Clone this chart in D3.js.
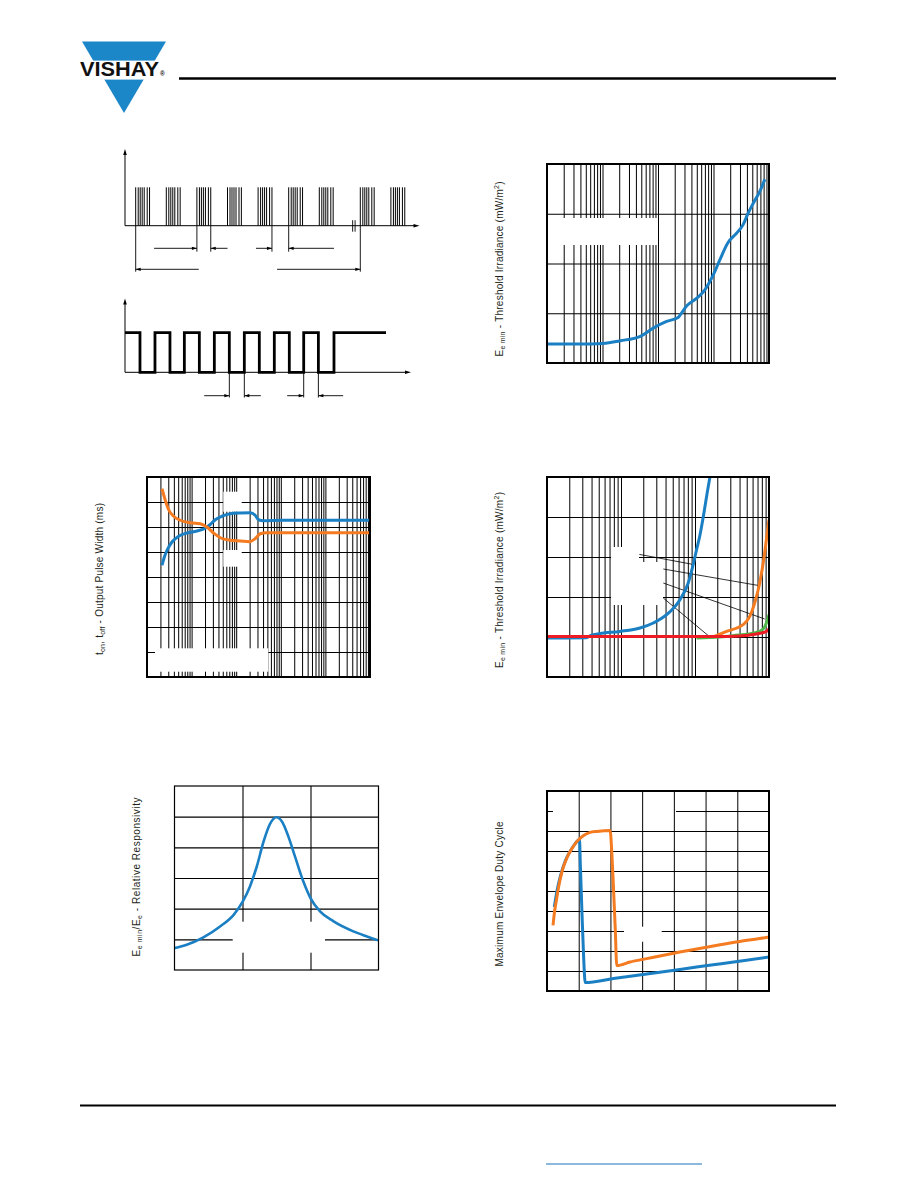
<!DOCTYPE html>
<html><head><meta charset="utf-8">
<script src="https://cdn.jsdelivr.net/npm/d3@7"></script>
<style>html,body{margin:0;padding:0;background:#fff;}svg{display:block;}</style>
</head><body>
<script>
// ================= DATA =================
// Timing diagram (time in burst periods)
const burstStarts = [0, 1, 2, 3, 4, 5, 6, 7.34, 8.34];
const pulseOffsets = [0, 0.082, 0.147, 0.212, 0.278, 0.376, 0.453];
const outputLowIntervals = [[0.14,0.63],[1.12,1.59],[2.08,2.57],[3.06,3.55],[4.04,4.53],[5.02,5.49],[5.97,6.48]];
const outputEndTime = 8.18;
const signalBreakTimes = [7.09, 7.17];
const signalDimRow1Ext = [2, 2.453, 4.453, 5];
const signalDimRow1Arrows = [[0.6, 2], [3.0, 2.453], [3.93, 4.453], [6.48, 5]];
const signalDimRow2Ext = [0, 7.34];
const signalDimRow2Arrows = [[2.06, 0], [4.62, 7.34]];
const outputDimExt = [3.06, 3.55, 5.49, 5.97];
const outputDimArrows = [[2.24, 3.06], [4.09, 3.55], [4.95, 5.49], [6.78, 5.97]];

// Chart A: threshold irradiance vs ambient DC irradiance
const ambientIrr = [0.01, 0.04, 0.1, 0.21, 0.48, 0.82, 1.43, 2.3, 2.65, 3.3, 5.0, 7.0, 8.6, 9.9, 13, 18.3, 26, 34, 42, 52, 68, 84];
const ambientThr = [0.19, 0.19, 0.197, 0.224, 0.268, 0.351, 0.418, 0.458, 0.502, 0.575, 0.652, 0.736, 0.819, 0.886, 1.037, 1.211, 1.304, 1.388, 1.505, 1.605, 1.722, 1.846];

// Chart B: output pulse width
const tonIrr = [0.217, 0.245, 0.281, 0.363, 0.512, 0.787, 1.32, 2.02, 2.62, 3.39, 4.78, 7.34, 12.3, 20.6, 26.6, 31.6, 40.9, 100, 1000, 10000];
const tonWidth = [0.447, 0.48, 0.507, 0.54, 0.563, 0.576, 0.584, 0.595, 0.61, 0.629, 0.643, 0.653, 0.656, 0.657, 0.647, 0.629, 0.625, 0.627, 0.627, 0.627];
const toffIrr = [0.217, 0.257, 0.306, 0.396, 0.557, 0.933, 1.56, 2.2, 3.11, 4.39, 7.34, 12.3, 19.9, 26.6, 34.4, 48.6, 100, 1000, 10000];
const toffWidth = [0.753, 0.707, 0.669, 0.643, 0.627, 0.617, 0.613, 0.6, 0.576, 0.557, 0.547, 0.544, 0.541, 0.553, 0.573, 0.577, 0.577, 0.577, 0.577];

// Chart C: threshold irradiance vs supply ripple
const rippleBlueX = [1, 3.4, 3.9, 5.2, 9.7, 18.1, 27.3, 41.4, 62.6, 81, 94.6, 105, 116, 132, 146, 159];
const rippleBlueY = [0.39, 0.393, 0.415, 0.435, 0.456, 0.49, 0.54, 0.623, 0.773, 0.94, 1.126, 1.273, 1.41, 1.64, 1.84, 2.0];
const rippleOrangeX = [176, 267, 446, 550, 642, 750, 875, 939, 1000];
const rippleOrangeY = [0.40, 0.456, 0.523, 0.606, 0.743, 0.943, 1.243, 1.42, 1.573];
const rippleGreenX = [105, 216, 327, 677, 832, 922, 1000];
const rippleGreenY = [0.39, 0.40, 0.413, 0.446, 0.48, 0.54, 0.623];
const rippleRedX = [1, 200, 400, 677, 922, 1000];
const rippleRedY = [0.405, 0.405, 0.41, 0.43, 0.456, 0.48];
const rippleLeaders = [[[17.7, 1.226], [93.8, 1.126]], [[37.3, 1.08], [750, 0.913]], [[37.3, 0.94], [875, 0.58]], [[37.3, 0.79], [159, 0.40]]];

// Chart D: relative responsivity vs f/f0
const freqRatio = [0.7, 0.736, 0.785, 0.834, 0.874, 0.901, 0.922, 0.942, 0.962, 0.981, 1.0, 1.016, 1.035, 1.055, 1.079, 1.1, 1.128, 1.168, 1.226, 1.266, 1.3];
const responsivity = [0.143, 0.165, 0.213, 0.284, 0.36, 0.447, 0.545, 0.675, 0.838, 0.953, 0.996, 0.968, 0.87, 0.736, 0.577, 0.469, 0.382, 0.317, 0.252, 0.219, 0.193];

// Chart E: max envelope duty cycle vs burst length
const dutyBlueX = [4.6, 6.3, 8.4, 11.5, 14.7, 17.8, 20.5, 21.0, 22.0, 23.1, 24.1, 41.9, 62.9, 83.8, 104.8, 125.7, 140];
const dutyBlueY = [0.42, 0.5, 0.573, 0.65, 0.7, 0.737, 0.757, 0.637, 0.403, 0.17, 0.042, 0.062, 0.085, 0.108, 0.131, 0.154, 0.17];
const dutyOrangeX = [3.8, 4.6, 5.9, 7.3, 9.4, 12.6, 15.7, 18.9, 23.1, 27.2, 31.4, 39.8, 40.9, 41.9, 43.0, 44.0, 52.4, 62.9, 83.8, 104.8, 121.6, 134.1, 140];
const dutyOrangeY = [0.328, 0.387, 0.453, 0.52, 0.595, 0.667, 0.712, 0.748, 0.778, 0.793, 0.798, 0.803, 0.687, 0.52, 0.32, 0.127, 0.145, 0.162, 0.195, 0.225, 0.248, 0.262, 0.27];

// ================= DRAWING =================
const BLUE = "#1b7fc3", ORANGE = "#f47b20", GREEN = "#4db848", RED = "#ed1c24";
const FONT = "'Liberation Sans', Arial, Helvetica, sans-serif";
const svg = d3.select("body").append("svg").attr("width", 918).attr("height", 1188);
svg.append("rect").attr("width", 918).attr("height", 1188).attr("fill", "#fff");

// ---- header / footer ----
const logo = svg.append("g");
logo.append("path").attr("d", "M82,41.5L166,41.5L124,113Z").attr("fill", "#1b86c8");
logo.append("rect").attr("x", 76).attr("y", 60.6).attr("width", 98).attr("height", 19).attr("fill", "#fff");
logo.append("text").attr("x", 80).attr("y", 76.4)
  .attr("font-family", "'Liberation Sans Narrow','Arial Narrow','Liberation Sans',sans-serif")
  .attr("font-weight", "bold").attr("font-size", 21)
  .attr("textLength", 79).attr("lengthAdjust", "spacingAndGlyphs").attr("fill", "#111").text("VISHAY");
logo.append("text").attr("x", 160).attr("y", 75.5).attr("font-family", FONT).attr("font-weight", "bold")
  .attr("font-size", 6.5).attr("fill", "#111").text("®");
svg.append("line").attr("x1", 179).attr("x2", 836).attr("y1", 78.5).attr("y2", 78.5).attr("stroke", "#000").attr("stroke-width", 2.4);
svg.append("line").attr("x1", 80).attr("x2", 836).attr("y1", 1105.5).attr("y2", 1105.5).attr("stroke", "#000").attr("stroke-width", 2);
svg.append("line").attr("x1", 546).attr("x2", 702).attr("y1", 1164).attr("y2", 1164).attr("stroke", "#1a75bc").attr("stroke-width", 1.2);

// ---- timing diagram ----
const tX = d3.scaleLinear().domain([0, 1]).range([135.7, 166.3]);
const sigY = d3.scaleLinear().domain([0, 1]).range([225.7, 187.3]);
const outY = d3.scaleLinear().domain([0, 1]).range([372.3, 332.7]);
const td = svg.append("g").attr("stroke", "#000").attr("fill", "none");
const axisLeftX = 125;

function upArrow(g, x, yTop) {
  g.append("path").attr("d", `M${x},${yTop}L${x - 1.8},${yTop + 6}L${x + 1.8},${yTop + 6}Z`).attr("fill", "#000").attr("stroke", "none");
}
function rightArrow(g, xTip, y) {
  g.append("path").attr("d", `M${xTip},${y}L${xTip - 6},${y - 1.8}L${xTip - 6},${y + 1.8}Z`).attr("fill", "#000").attr("stroke", "none");
}
function dimArrow(g, tTail, tHead, y) {
  const xt = tX(tTail), xh = tX(tHead);
  g.append("line").attr("x1", xt).attr("x2", xh).attr("y1", y).attr("y2", y).attr("stroke-width", 0.9);
  const d = xh > xt ? -1 : 1;
  g.append("path").attr("d", `M${xh},${y}L${xh + d * 5},${y - 1.6}L${xh + d * 5},${y + 1.6}Z`).attr("fill", "#000").attr("stroke", "none");
}

// signal axes
td.append("line").attr("x1", axisLeftX).attr("x2", axisLeftX).attr("y1", sigY(0)).attr("y2", 152).attr("stroke-width", 1);
upArrow(td, axisLeftX, 149);
td.append("line").attr("x1", axisLeftX).attr("x2", 414).attr("y1", sigY(0)).attr("y2", sigY(0)).attr("stroke-width", 1);
rightArrow(td, 419.5, sigY(0));
signalBreakTimes.forEach(t => td.append("line").attr("x1", tX(t)).attr("x2", tX(t)).attr("y1", sigY(0) - 5.5).attr("y2", sigY(0) + 6).attr("stroke-width", 0.9));
// pulses
burstStarts.forEach(b => pulseOffsets.forEach(o => {
  td.append("line").attr("x1", tX(b + o)).attr("x2", tX(b + o)).attr("y1", sigY(0)).attr("y2", sigY(1)).attr("stroke-width", 1);
}));
// dimensions
signalDimRow1Ext.forEach(t => td.append("line").attr("x1", tX(t)).attr("x2", tX(t)).attr("y1", sigY(0)).attr("y2", 251.7).attr("stroke-width", 0.9));
signalDimRow2Ext.forEach(t => td.append("line").attr("x1", tX(t)).attr("x2", tX(t)).attr("y1", sigY(0)).attr("y2", 271.7).attr("stroke-width", 0.9));
signalDimRow1Arrows.forEach(a => dimArrow(td, a[0], a[1], 248.3));
signalDimRow2Arrows.forEach(a => dimArrow(td, a[0], a[1], 269.3));

// output axes
td.append("line").attr("x1", axisLeftX).attr("x2", axisLeftX).attr("y1", outY(0)).attr("y2", 302).attr("stroke-width", 1);
upArrow(td, axisLeftX, 298.5);
td.append("line").attr("x1", axisLeftX).attr("x2", 406).attr("y1", outY(0)).attr("y2", outY(0)).attr("stroke-width", 1);
rightArrow(td, 411, outY(0));
const wavePts = [[tX.invert(axisLeftX), 1]];
outputLowIntervals.forEach(([a, b]) => { wavePts.push([a, 1], [a, 0], [b, 0], [b, 1]); });
wavePts.push([outputEndTime, 1]);
td.append("path").attr("d", d3.line().x(d => tX(d[0])).y(d => outY(d[1]))(wavePts))
  .attr("stroke-width", 2.8).attr("stroke-linejoin", "miter");
outputDimExt.forEach(t => td.append("line").attr("x1", tX(t)).attr("x2", tX(t)).attr("y1", outY(0)).attr("y2", 397.5).attr("stroke-width", 0.9));
outputDimArrows.forEach(a => dimArrow(td, a[0], a[1], 395.7));

// ---- generic chart ----
function logGrid(domain) {
  const vals = [];
  const e0 = Math.round(Math.log10(domain[0])), e1 = Math.round(Math.log10(domain[1]));
  for (let e = e0; e < e1; e++) for (let k = 1; k <= 9; k++) vals.push(k * Math.pow(10, e));
  return vals.filter(v => v > domain[0] * 1.0001 && v < domain[1] * 0.9999);
}
function linGrid(domain, n) {
  return d3.range(1, n).map(i => domain[0] + i * (domain[1] - domain[0]) / n);
}
let clipId = 0;
function drawChart(cfg) {
  const g = svg.append("g");
  const x = (cfg.xLog ? d3.scaleLog() : d3.scaleLinear()).domain(cfg.xDomain).range([cfg.left, cfg.right]);
  const y = d3.scaleLinear().domain(cfg.yDomain).range([cfg.bottom, cfg.top]);
  const w = cfg.right - cfg.left, h = cfg.bottom - cfg.top;
  const gw = cfg.gridWidth || 1;
  // horizontal grid
  const hg = g.append("g").attr("transform", `translate(${cfg.left},0)`)
    .call(d3.axisLeft(y).tickValues(linGrid(cfg.yDomain, cfg.yDivs)).tickSize(-w).tickFormat(""));
  hg.select(".domain").remove();
  hg.selectAll("line").attr("stroke", "#000").attr("stroke-width", gw);
  (cfg.masks || []).filter(m => m.layer === "h").forEach(m =>
    g.append("rect").attr("x", m.x).attr("y", m.y).attr("width", m.w).attr("height", m.h).attr("fill", "#fff"));
  // vertical grid
  const xv = cfg.xLog ? logGrid(cfg.xDomain) : linGrid(cfg.xDomain, cfg.xDivs);
  const vg = g.append("g").attr("transform", `translate(0,${cfg.bottom})`)
    .call(d3.axisBottom(x).tickValues(xv).tickSize(-h).tickFormat(""));
  vg.select(".domain").remove();
  vg.selectAll("line").attr("stroke", "#000").attr("stroke-width", gw);
  (cfg.masks || []).filter(m => m.layer !== "h").forEach(m =>
    g.append("rect").attr("x", m.x).attr("y", m.y).attr("width", m.w).attr("height", m.h).attr("fill", "#fff"));
  // leader lines
  (cfg.leaders || []).forEach(l => g.append("line")
    .attr("x1", x(l[0][0])).attr("y1", y(l[0][1])).attr("x2", x(l[1][0])).attr("y2", y(l[1][1]))
    .attr("stroke", "#000").attr("stroke-width", 0.8));
  // curves
  const id = "clip" + (clipId++);
  g.append("clipPath").attr("id", id).append("rect").attr("x", cfg.left).attr("y", cfg.top).attr("width", w).attr("height", h);
  const line = d3.line().x(d => x(d[0])).y(d => y(d[1])).curve(d3.curveMonotoneX);
  cfg.series.forEach(s => {
    g.append("path").attr("clip-path", `url(#${id})`).attr("d", line(d3.zip(s.x, s.y)))
      .attr("fill", "none").attr("stroke", s.color).attr("stroke-width", cfg.curveWidth || 3)
      .attr("stroke-linejoin", "round");
  });
  // frame
  g.append("rect").attr("x", cfg.left).attr("y", cfg.top).attr("width", w).attr("height", h)
    .attr("fill", "none").attr("stroke", "#000").attr("stroke-width", cfg.frameWidth || 2);
  // y label
  const lbl = svg.append("text")
    .attr("transform", `translate(${cfg.label.cx + 3.6},${cfg.label.cy}) rotate(-90)`)
    .attr("text-anchor", "middle").attr("font-family", FONT).attr("font-size", 10).attr("fill", "#231f20")
    .attr("textLength", cfg.label.len).attr("lengthAdjust", "spacing");
  let shift = 0;
  cfg.label.parts.forEach(p => {
    const target = p[1] === "sub" ? 2.2 : p[1] === "sup" ? -3.5 : 0;
    const t = lbl.append("tspan").attr("dy", target - shift).text(p[0]);
    if (p[1] !== "n") t.attr("font-size", 7);
    shift = target;
  });
}

const threshLabel = [["E", "n"], ["e min", "sub"], [" - Threshold Irradiance (mW/m", "n"], ["2", "sup"], [")", "n"]];

drawChart({
  left: 547, right: 769, top: 164, bottom: 363, xLog: true, xDomain: [0.01, 100], yDomain: [0, 2], yDivs: 4,
  masks: [{ x: 560, y: 218, w: 98, h: 27 }],
  series: [{ x: ambientIrr, y: ambientThr, color: BLUE }],
  label: { cx: 499, cy: 269, len: 175, parts: threshLabel }
});

drawChart({
  left: 147, right: 370, top: 477, bottom: 677, xLog: true, xDomain: [0.1, 10000], yDomain: [0, 0.8], yDivs: 8,
  masks: [{ x: 223.3, y: 491.7, w: 18.4, h: 20 }, { x: 223.3, y: 550, w: 18.4, h: 16.7 }, { x: 155, y: 648.3, w: 113.3, h: 23.4 }],
  series: [{ x: tonIrr, y: tonWidth, color: BLUE }, { x: toffIrr, y: toffWidth, color: ORANGE }],
  label: { cx: 99, cy: 579, len: 152, parts: [["t", "n"], ["on", "sub"], [", t", "n"], ["off", "sub"], [" - Output Pulse Width (ms)", "n"]] }
});

drawChart({
  left: 547, right: 769, top: 477, bottom: 677, xLog: true, xDomain: [1, 1000], yDomain: [0, 2], yDivs: 5,
  masks: [{ x: 611, y: 547, w: 28, h: 15 }, { x: 611, y: 562, w: 52, h: 43 }],
  leaders: rippleLeaders,
  series: [{ x: rippleBlueX, y: rippleBlueY, color: BLUE }, { x: rippleOrangeX, y: rippleOrangeY, color: ORANGE },
           { x: rippleGreenX, y: rippleGreenY, color: GREEN }, { x: rippleRedX, y: rippleRedY, color: RED }],
  label: { cx: 499, cy: 580, len: 176, parts: threshLabel }
});

drawChart({
  left: 174.5, right: 378.5, top: 786, bottom: 970, xLog: false, xDomain: [0.7, 1.3], xDivs: 3, yDomain: [0, 1.2], yDivs: 6,
  frameWidth: 1.2, gridWidth: 1.1, curveWidth: 2.6,
  masks: [{ x: 232.7, y: 921.7, w: 92.3, h: 31 }],
  series: [{ x: freqRatio, y: responsivity, color: BLUE }],
  label: { cx: 136, cy: 877, len: 159, parts: [["E", "n"], ["e min", "sub"], ["/E", "n"], ["e", "sub"], [" -  Relative Responsivity", "n"]] }
});

drawChart({
  left: 547, right: 769, top: 791, bottom: 991, xLog: false, xDomain: [0, 140], xDivs: 7, yDomain: [0, 1], yDivs: 10,
  masks: [{ x: 553, y: 806, w: 123, h: 9, layer: "h" }, { x: 624, y: 926.7, w: 37.7, h: 15 }],
  series: [{ x: dutyBlueX, y: dutyBlueY, color: BLUE }, { x: dutyOrangeX, y: dutyOrangeY, color: ORANGE }],
  label: { cx: 499, cy: 894, len: 145, parts: [["Maximum  Envelope  Duty Cycle", "n"]] }
});
</script>
</body></html>
